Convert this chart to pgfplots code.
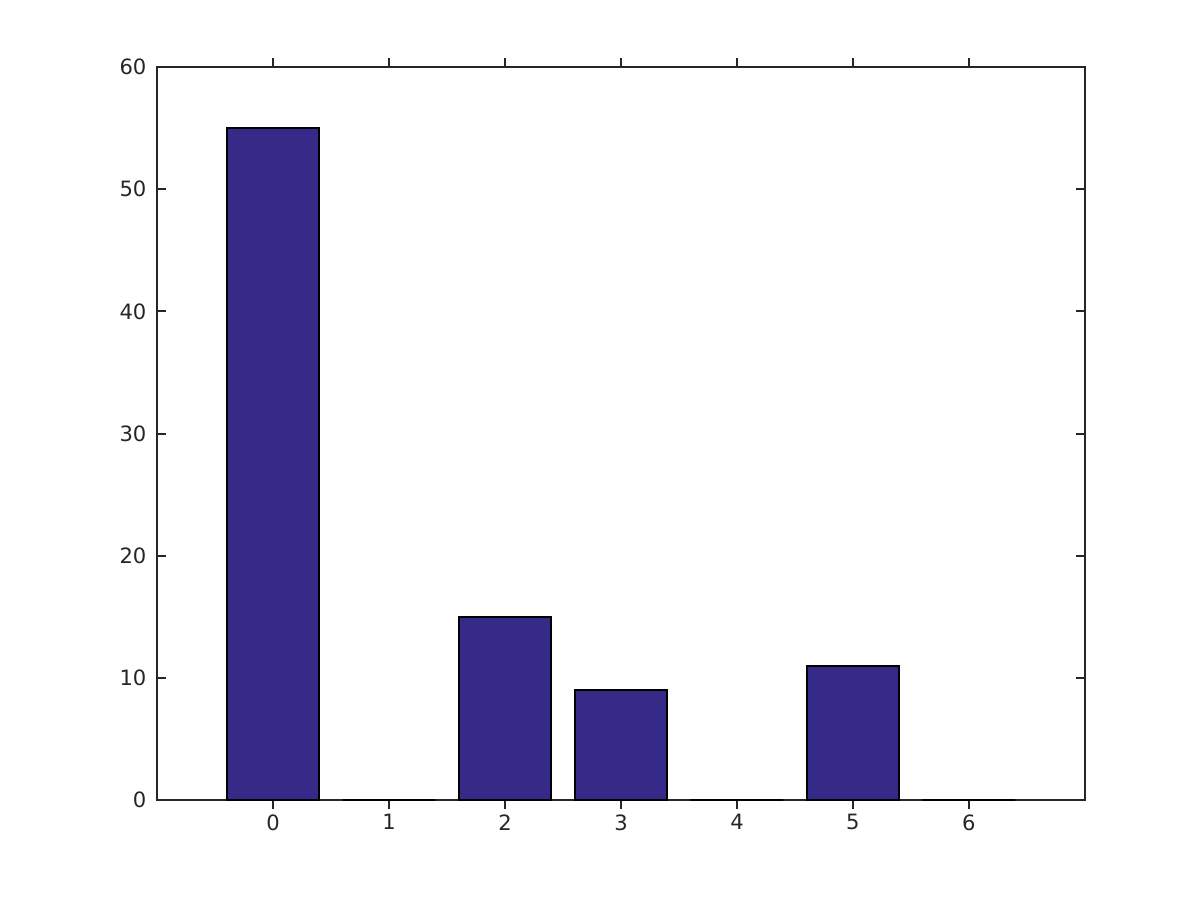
\documentclass[border=0pt]{standalone}
\usepackage{fontspec}
\setmainfont{DejaVu Sans}
\usepackage{pgfplots}
\pgfplotsset{compat=1.18}
\definecolor{barblue}{RGB}{53,42,135}
\definecolor{axgray}{RGB}{38,38,38}
\begin{document}
\begin{tikzpicture}[x=1cm,y=1cm]
\path[use as bounding box] (0,0) rectangle (16,12);
\begin{axis}[
  at={(2.093cm,1.333cm)}, anchor=south west,
  scale only axis, width=12.373cm, height=9.773cm,
  xmin=-1, xmax=7, ymin=0, ymax=60,
  xtick={0,1,2,3,4,5,6}, ytick={0,10,20,30,40,50,60},
  tick align=inside, major tick length=3.4pt,
  axis line style={axgray, line width=0.75pt},
  every tick/.style={axgray, line width=0.75pt},
  tick label style={font=\fontsize{8}{9}\selectfont, text=axgray},
  /pgf/number format/assume math mode=true,
  xticklabel style={yshift=1.5pt},
  yticklabel style={xshift=-0.5pt},
  ybar, bar width=0.8,
]
\addplot[fill=barblue, draw=black, line width=0.75pt] coordinates {
  (0,55) (1,0) (2,15) (3,9) (4,0) (5,11) (6,0)
};
\end{axis}
\end{tikzpicture}
\end{document}
